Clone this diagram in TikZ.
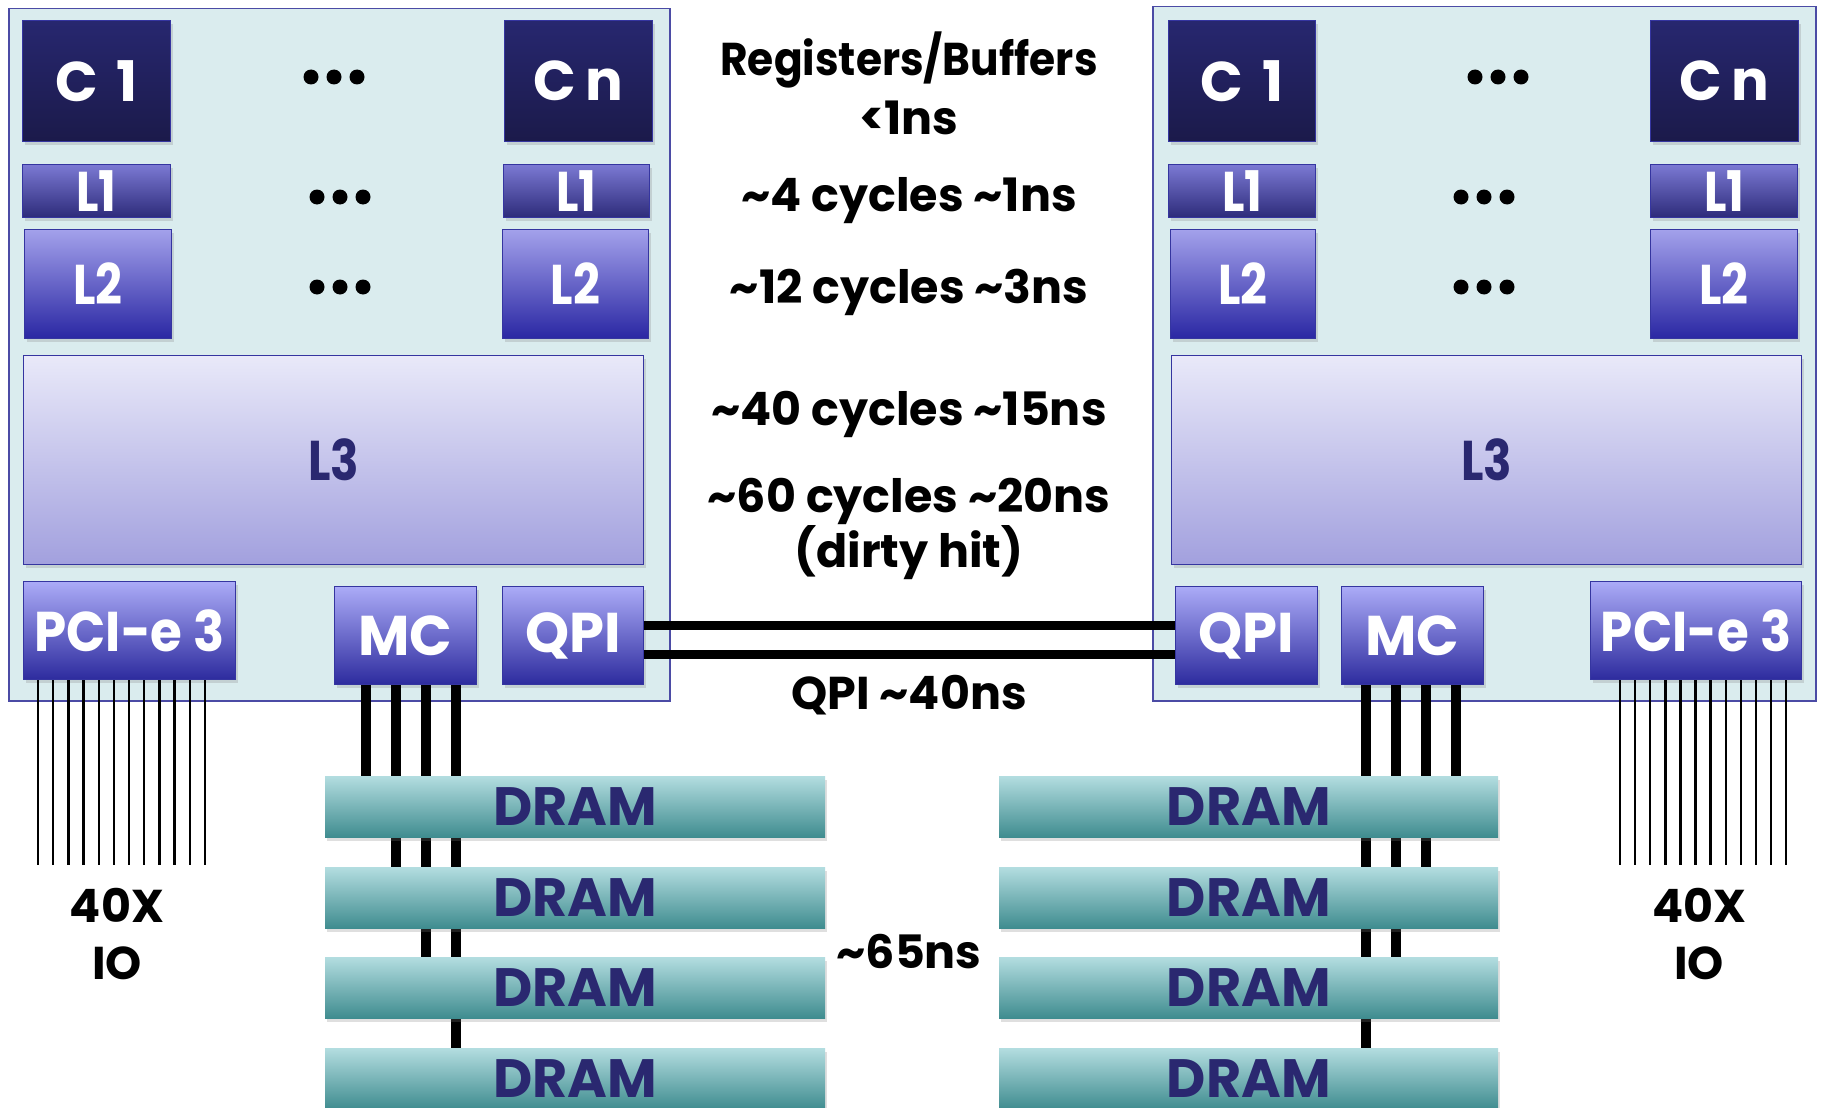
\documentclass[tikz,border=0pt]{standalone}
\usepackage{fontspec}
\setmainfont{Poppins}
\newfontfamily\condfam{Poppins}[FakeStretch=0.84]
\newfontfamily\pcifam{Poppins}[FakeStretch=0.92]
\usetikzlibrary{shadows}
\definecolor{chipbg}{HTML}{DAECEE}
\definecolor{chipedge}{HTML}{4B4BA5}
\definecolor{boxedge}{HTML}{3535A0}
\definecolor{ctop}{HTML}{27276F}
\definecolor{cbot}{HTML}{1B1A4A}
\definecolor{lonetop}{HTML}{7B79D3}
\definecolor{lonebot}{HTML}{2D2B7A}
\definecolor{ltwotop}{HTML}{A3A1EB}
\definecolor{ltwobot}{HTML}{2A27A3}
\definecolor{lthreetop}{HTML}{E9E9F9}
\definecolor{lthreebot}{HTML}{A2A0DE}
\definecolor{iotop}{HTML}{ABABF7}
\definecolor{iobot}{HTML}{2D2B9E}
\definecolor{dramtop}{HTML}{B3DDE0}
\definecolor{drammid}{HTML}{7EC4C7}
\definecolor{drambot}{HTML}{3F8C8F}
\definecolor{navytext}{HTML}{2A2870}
\newcommand\boxfont{\fontsize{56}{60}\selectfont\bfseries}
\newcommand\condbox{\condfam\fontsize{56}{60}\selectfont\bfseries}
\newcommand\pcibox{\pcifam\fontsize{56}{60}\selectfont\bfseries}
\newcommand\lblfont{\fontsize{46}{50}\selectfont\bfseries}
\tikzset{
  chip/.style={draw=chipedge, line width=1.5pt, fill=chipbg, anchor=north west, inner sep=0pt},
  blk/.style={anchor=north west, inner sep=0pt, draw=boxedge, line width=1.2pt, text=white, font=\boxfont,
    drop shadow={opacity=0.25, shadow xshift=2pt, shadow yshift=-3pt}},
  core/.style={blk, top color=ctop, bottom color=cbot},
  lone/.style={blk, top color=lonetop, bottom color=lonebot, font=\condbox},
  ltwo/.style={blk, top color=ltwotop, bottom color=ltwobot, font=\condbox},
  lthree/.style={blk, top color=lthreetop, bottom color=lthreebot, font=\condbox, text=navytext},
  ioc/.style={blk, top color=iotop, bottom color=iobot},
  cond/.style={font=\pcibox},
  dram/.style={anchor=north west, inner sep=0pt, top color=dramtop, middle color=drammid, bottom color=drambot,
    text=navytext, font=\fontsize{54}{58}\selectfont\bfseries,
    drop shadow={opacity=0.25, shadow xshift=2pt, shadow yshift=-4pt}},
  lbl/.style={anchor=base, font=\lblfont, text=black, inner sep=0pt},
  bus/.style={line width=9.5pt, black},
  qpil/.style={line width=8.5pt, black},
  iol/.style={line width=2.4pt, black},
}
\begin{document}
\begin{tikzpicture}[x=1pt,y=-1pt]
\useasboundingbox (0,0) rectangle (1821,1108);
\fill[white] (0,0) rectangle (1821,1108);

% chips
\node[chip, minimum width=661, minimum height=692] (chipL) at (8,8) {};
\node[chip, minimum width=663, minimum height=694] (chipR) at (1152,6) {};

% left chip blocks
\node[core, minimum width=148, minimum height=121] (c1L) at (22,20) {C\,\,1};
\node[core, minimum width=148, minimum height=121] (cnL) at (504,20) {C\,n};
\node[lone, minimum width=148, minimum height=53] (l1aL) at (22,164) {L1};
\node[lone, minimum width=146, minimum height=53] (l1bL) at (503,164) {L1};
\node[ltwo, minimum width=147, minimum height=109] (l2aL) at (24,229) {L2};
\node[ltwo, minimum width=146, minimum height=109] (l2bL) at (502,229) {L2};
\node[lthree, minimum width=620, minimum height=209] (l3L) at (23,355) {L3};
\node[ioc, cond, minimum width=212, minimum height=98] (pciL) at (23,581) {PCI-e 3};
\node[ioc, minimum width=142, minimum height=98] (mcL) at (334,586) {MC};
\node[ioc, minimum width=141, minimum height=98] (qpiL) at (502,586) {QPI};

% right chip blocks
\node[core, minimum width=147, minimum height=121] (c1R) at (1168,20) {C\,\,1};
\node[core, minimum width=148, minimum height=121] (cnR) at (1650,20) {C\,n};
\node[lone, minimum width=147, minimum height=53] (l1aR) at (1168,164) {L1};
\node[lone, minimum width=147, minimum height=53] (l1bR) at (1650,164) {L1};
\node[ltwo, minimum width=145, minimum height=109] (l2aR) at (1170,229) {L2};
\node[ltwo, minimum width=147, minimum height=109] (l2bR) at (1650,229) {L2};
\node[lthree, minimum width=630, minimum height=209] (l3R) at (1171,355) {L3};
\node[ioc, minimum width=142, minimum height=98] (qpiR) at (1175,586) {QPI};
\node[ioc, minimum width=142, minimum height=98] (mcR) at (1341,586) {MC};
\node[ioc, cond, minimum width=211, minimum height=98] (pciR) at (1590,581) {PCI-e 3};

% dots
\foreach \y/\cx in {77/334, 197/340, 287/340}{
  \foreach \d in {-23,0,23} \fill (\cx+\d,\y) circle (7.5);
}
\foreach \y/\cx in {77/1498, 197/1484, 287/1484}{
  \foreach \d in {-23,0,23} \fill (\cx+\d,\y) circle (7.5);
}

% QPI link
\draw[qpil] ([yshift=10pt]qpiL.east) -- ([yshift=10pt]qpiR.west);
\draw[qpil] ([yshift=-19pt]qpiL.east) -- ([yshift=-19pt]qpiR.west);

% DRAM anchors for buses (drawn before DRAMs)
\coordinate (t1) at (0,776);
\coordinate (t2) at (0,867);
\coordinate (t3) at (0,957);
\coordinate (t4) at (0,1048);
\draw[bus] (366,0 |- mcL.south) -- (366,0 |- t1);
\draw[bus] (396,0 |- mcL.south) -- (396,0 |- t2);
\draw[bus] (426,0 |- mcL.south) -- (426,0 |- t3);
\draw[bus] (456,0 |- mcL.south) -- (456,0 |- t4);
\draw[bus] (1366,0 |- mcR.south) -- (1366,0 |- t4);
\draw[bus] (1396,0 |- mcR.south) -- (1396,0 |- t3);
\draw[bus] (1426,0 |- mcR.south) -- (1426,0 |- t2);
\draw[bus] (1456,0 |- mcR.south) -- (1456,0 |- t1);

% IO lines
\coordinate (ioend) at (0,865);
\foreach \i in {0,...,11}{
  \draw[iol] ({38+15.18*\i},0 |- pciL.south) -- ({38+15.18*\i},0 |- ioend);
  \draw[iol] ({1620+15.1*\i},0 |- pciR.south) -- ({1620+15.1*\i},0 |- ioend);
}

% DRAMs
\node[dram, minimum width=500, minimum height=61] (d1L) at (325,776) {DRAM};
\node[dram, minimum width=500, minimum height=61] (d2L) at (325,867) {DRAM};
\node[dram, minimum width=500, minimum height=61] (d3L) at (325,957) {DRAM};
\node[dram, minimum width=500, minimum height=61] (d4L) at (325,1048) {DRAM};
\node[dram, minimum width=499, minimum height=61] (d1R) at (999,776) {DRAM};
\node[dram, minimum width=499, minimum height=61] (d2R) at (999,867) {DRAM};
\node[dram, minimum width=499, minimum height=61] (d3R) at (999,957) {DRAM};
\node[dram, minimum width=499, minimum height=61] (d4R) at (999,1048) {DRAM};

% labels
\node[lbl] (reg) at (909,76) {\scalebox{0.92}[1]{Registers/Buffers}};
\node[lbl] (lt1) at (909,134) {<1ns};
\node[lbl] (cy4) at (909,211) {\textasciitilde4 cycles \textasciitilde1ns};
\node[lbl] (cy12) at (909,303) {\textasciitilde12 cycles \textasciitilde3ns};
\node[lbl] (cy40) at (909,425) {\textasciitilde40 cycles \textasciitilde15ns};
\node[lbl] (cy60) at (909,512) {\textasciitilde60 cycles \textasciitilde20ns};
\node[lbl] (dirty) at (909,567) {(dirty hit)};
\node[lbl] (qpins) at (909,709) {QPI \textasciitilde40ns};
\node[lbl] (ns65) at (909,968) {\textasciitilde65ns};
\node[lbl] (x40L) at (117,922) {40X};
\node[lbl] (ioL) at (117,979) {IO};
\node[lbl] (x40R) at (1699,922) {40X};
\node[lbl] (ioR) at (1699,979) {IO};
\end{tikzpicture}
\end{document}
